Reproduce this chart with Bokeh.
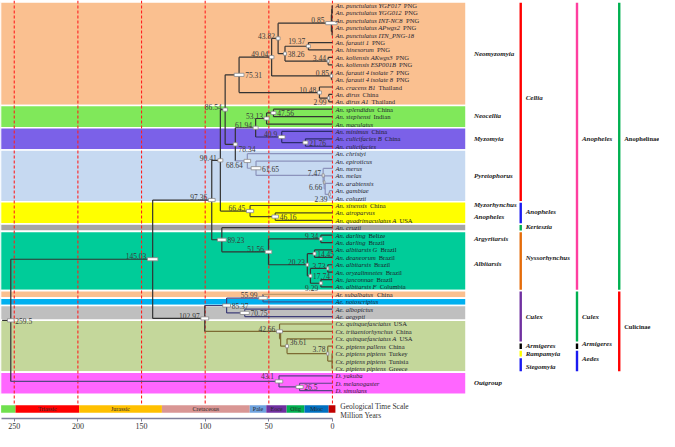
from bokeh.plotting import figure
from bokeh.models import Range1d, LinearAxis, FixedTicker, ColumnDataSource
from bokeh.core.properties import value
from bokeh.embed import file_html
from bokeh.resources import INLINE

# ---------------- data ----------------
taxon_italic = [
    "An. punctulatus YGF017", "An. punctulatus YGG012", "An. punctulatus INT-NC8",
    "An. punctulatus APwgs2", "An. punctulatus ITN_PNG-18", "An. farauti 1", "An. hinesorum",
    "An. koliensis AKwgs3", "An. koliensis ESP001B", "An. farauti 4 isolate 7",
    "An. farauti 4 isolate 8", "An. cracens B1", "An. dirus", "An. dirus A1",
    "An. splendidus", "An. stephensi", "An. maculatus", "An. minimus",
    "An. culicifacies B", "An. culicifacies", "An. christyi", "An. epiroticus",
    "An. merus", "An. melas", "An. arabiensis", "An. gambiae", "An. coluzzii",
    "An. sinensis", "An. atroparvus", "An. quadrimaculatus A", "An. cruzii",
    "An. darling", "An. darling", "An. albitarsis G", "An. deaneorum", "An. albitarsis",
    "An. oryzalimnetes", "An. janconnae", "An. albitarsis F", "Ar. subalbatus",
    "Ae. notoscriptus", "Ae. albopictus", "Ae. aegypti", "Cx. quinquefasciatus",
    "Cx. tritaeniorhynchus", "Cx. quinquefasciatus A", "Cx. pipiens pallens",
    "Cx. pipiens pipiens", "Cx. pipiens pipiens", "Cx. pipiens pipiens",
    "D. yakuba", "D. melanogaster", "D. simulans"]
taxon_place = [
    "PNG", "PNG", "PNG", "PNG", "", "PNG", "PNG", "PNG", "PNG", "PNG", "PNG",
    "Thailand", "China", "Thailand",
    "China", "Indian", "", "China", "China", "", "", "", "", "", "", "", "",
    "China", "", "USA", "", "Belize", "Brazil", "Brazil", "Brazil", "Brazil",
    "Brazil", "Brazil", "Columbia", "China", "", "", "",
    "USA", "China", "USA", "China", "Turkey", "Tunisia", "Greece", "", "", ""]
assert len(taxon_italic) == len(taxon_place) == 53

# coloured bands (first row, last row)
band_first = [0, 14, 17, 20, 27, 30, 31, 39, 40, 41, 43, 50]
band_last = [13, 16, 19, 26, 29, 30, 38, 39, 40, 42, 49, 52]
band_colors = ["#FAC090", "#80E85A", "#7B61E8", "#C6D9F1", "#FFFF00", "#A6A6A6",
               "#00CC99", "#FAC090", "#00B0F0", "#BFBFBF", "#C4D79B", "#FF66FF"]

# tree: node id, age (My), children, label side, HPD width (My)
node_id = ["p1", "p2", "p3", "n085a", "n1937", "n344", "n3826", "n4382", "n085b", "n4904",
           "n299", "n1048", "n7531", "n4756", "n5313", "n2176", "n409", "n6194",
           "n239", "nx", "n666", "n747", "n6165", "n6864", "n7834", "n8654",
           "n4616", "n6645", "n9041", "n934", "n1445", "n373", "n929", "n1774", "n2023",
           "n5156", "n8923", "n9736", "n5599", "n7075", "n8537", "npp", "n378", "n3661",
           "nc", "n4266", "n10297", "n14503", "n265", "n431", "root"]
node_age = [0.25, 0.5, 0.3, 0.85, 19.37, 3.44, 38.26, 43.82, 0.85, 49.04,
            2.99, 10.48, 75.31, 47.56, 53.13, 21.76, 40.9, 61.94,
            2.39, 5.8, 6.66, 7.47, 61.65, 68.64, 78.34, 86.54,
            46.16, 66.45, 90.41, 9.34, 14.45, 3.73, 9.29, 17.74, 20.23,
            51.56, 89.23, 97.36, 55.99, 70.75, 85.37, 0.3, 3.78, 36.61,
            41.8, 42.66, 102.97, 145.03, 26.5, 43.1, 259.5]
node_children = [["t0", "t1"], ["p1", "t2"], ["t3", "t4"], ["p2", "p3"], ["t5", "t6"],
                 ["t7", "t8"], ["n1937", "n344"], ["n085a", "n3826"], ["t9", "t10"],
                 ["n4382", "n085b"], ["t12", "t13"], ["t11", "n299"], ["n4904", "n1048"],
                 ["t14", "t15"], ["n4756", "t16"], ["t18", "t19"], ["t17", "n2176"],
                 ["n5313", "n409"], ["t25", "t26"], ["t24", "n239"], ["t23", "nx"],
                 ["t22", "n666"], ["t21", "n747"], ["t20", "n6165"], ["n6194", "n6864"],
                 ["n7531", "n7834"], ["t28", "t29"], ["t27", "n4616"], ["n8654", "n6645"],
                 ["t31", "t32"], ["t33", "t34"], ["t35", "t36"], ["t37", "t38"],
                 ["n373", "n929"], ["n1445", "n1774"], ["n934", "n2023"], ["t30", "n5156"],
                 ["n9041", "n8923"], ["t39", "t40"], ["t41", "t42"], ["n5599", "n7075"],
                 ["t47", "t48", "t49"], ["t46", "npp"], ["t45", "n378"], ["t44", "n3661"],
                 ["t43", "nc"], ["n8537", "n4266"], ["n9736", "n10297"], ["t51", "t52"],
                 ["t50", "n265"], ["n14503", "n431"]]
node_side = ["", "", "", "l", "la", "l", "r", "l", "l", "l",
             "lb", "l", "r", "r", "l", "r", "l", "l",
             "lb", "", "lb", "l", "r", "lb", "rb", "l",
             "r", "l", "l", "l", "r", "l", "lb", "r", "l",
             "l", "r", "l", "l", "r", "r", "", "la", "ra",
             "", "l", "l", "l", "r", "la", "r"]
node_hpd = [0, 0, 0, 9.2, 3.2, 1.6, 2.4, 3.2, 2.0, 3.7,
            1.6, 3.2, 7.9, 4.0, 4.0, 4.0, 5.3, 4.0,
            1.2, 0, 1.2, 1.6, 7.9, 5.3, 3.2, 3.7,
            5.3, 5.8, 4.0, 2.4, 2.4, 1.6, 2.4, 2.4, 2.0,
            5.3, 7.1, 5.5, 6.9, 7.4, 6.3, 0, 1.6, 2.4,
            0, 4.8, 6.3, 8.4, 5.8, 6.1, 5.3]

# right-hand classification columns: name, first row, last row, colour, label row
group_names = ["Neomyzomyia", "Neocellia", "Myzomyia", "Pyretophorus", "Myzorhynchus",
               "Anopheles", "Argyritarsis", "Albitarsis", "Outgroup"]
group_rows = [6.5, 14.9, 18.0, 23.0, 26.9, 28.5, 31.5, 34.9, 50.9]

subgenus_names = ["Cellia", "Anopheles", "Kerteszia", "Nyssorhynchus", "Culex",
                  "Armigeres", "Rampamyia", "Stegomyia"]
subgenus_first = [0, 27, 30, 31, 39, 46, 47, 48]
subgenus_last = [26, 29, 30, 38, 45, 46, 47, 49]
subgenus_colors = ["#FF0000", "#1A1AF0", "#00B050", "#E46C0A", "#7030A0", "#000000",
                   "#FFFF00", "#1A1AF0"]
subgenus_label_rows = [12.5, 27.9, 29.9, 34.1, 42.0, 46.0, 47.0, 48.8]

genus_names = ["Anopheles", "Culex", "Armigeres", "Aedes"]
genus_first = [0, 39, 46, 47]
genus_last = [38, 45, 46, 49]
genus_colors = ["#FF3FA0", "#00B050", "#000000", "#1A1AF0"]
genus_label_rows = [18.0, 42.0, 45.7, 47.7]

subfamily_names = ["Anophelinae", "Culicinae"]
subfamily_first = [0, 39]
subfamily_last = [38, 49]
subfamily_colors = ["#00B050", "#FF0000"]
subfamily_label_rows = [18.0, 43.3]

# geological time scale
geo_names = ["", "Triassic", "Jurassic", "Cretaceous", "Pale", "Eoce", "Olig", "Mioc", ""]
geo_start = [260.3, 249, 199, 134, 65, 52, 36, 22, 3]
geo_end = [249, 199, 134, 65, 52, 36, 22, 3, -2.3]
geo_colors = ["#70E04E", "#FF0000", "#FFC000", "#D99694", "#6FA2DE", "#7030A0",
              "#00B050", "#0070C0", "#C00000"]
tick_values = [250, 200, 150, 100, 50, 0]

# ---------------- layout ----------------
W, H = 659, 431
TREE_RANGE = (267.8, -263.9)
KPX = W / (TREE_RANGE[0] - TREE_RANGE[1])   # px per My
SERIF = "Liberation Serif"

p = figure(width=W, height=H, output_backend="svg", toolbar_location=None,
           x_range=Range1d(*TREE_RANGE), y_range=Range1d(55.76, -0.68),
           x_axis_location=None, y_axis_location=None, min_border=0)
p.extra_x_ranges = {"geo": Range1d(260.8, -256.9), "ref": Range1d(2, 673)}
p.grid.visible = False
p.outline_line_color = None
p.background_fill_color = "white"
p.border_fill_color = "white"

# bands
p.quad(left=[2] * len(band_first), right=[476] * len(band_first),
       top=[f - 0.5 for f in band_first], bottom=[l + 0.5 for l in band_last],
       fill_color=band_colors, line_color="white", line_width=1.6, x_range_name="ref")

# dashed time lines
p.segment(x0=tick_values, y0=[-0.68] * 6, x1=tick_values, y1=[53.83] * 6,
          line_color="#FF2020", line_dash="3 2", line_width=1.1, x_range_name="geo")

# ---------------- tree ----------------
age = {f"t{i}": 0.0 for i in range(len(taxon_italic))}
ypos = {f"t{i}": float(i) for i in range(len(taxon_italic))}
for nid, a, ch in zip(node_id, node_age, node_children):
    age[nid] = a
    ys = [ypos[c] for c in ch]
    ypos[nid] = (min(ys) + max(ys)) / 2

clade_color = {"n4266": "#7D6B33", "n431": "#574684", "n8537": "#3E3E78",
               "n6864": "#8C93BC", "n409": "#2C2C6C", "n6645": "#4A4A20",
               "t39": "#C09A6A", "t40": "#2E5E9E"}
color = {"root": "#333333"}
for nid, ch in zip(reversed(node_id), reversed(node_children)):
    for c in ch:
        color[c] = clade_color.get(c, color[nid])

sx0, sy0, sx1, sy1, scol = [], [], [], [], []
for nid, ch in zip(node_id, node_children):
    ys = [ypos[c] for c in ch]
    sx0.append(age[nid]); sx1.append(age[nid]); sy0.append(min(ys)); sy1.append(max(ys))
    scol.append(color[nid])
    for c in ch:
        sx0.append(age[nid]); sx1.append(age[c]); sy0.append(ypos[c]); sy1.append(ypos[c])
        scol.append(color[c])
# root stem
sx0.append(age["root"]); sx1.append(266.5); sy0.append(ypos["root"]); sy1.append(ypos["root"])
scol.append("#333333")
p.segment(x0=sx0, y0=sy0, x1=sx1, y1=sy1, line_color=scol, line_width=1.2)

# HPD bars and node labels
hx, hy, hw = [], [], []
lx, ly, lt, lxo, lyo, lal = [], [], [], [], [], []
dy = {"l": -2.8, "la": -5.0, "lb": 4.3, "r": 0.3, "ra": -3.8, "rb": 4.3}
for nid, a, side, hpd in zip(node_id, node_age, node_side, node_hpd):
    if hpd > 0:
        hx.append(a); hy.append(ypos[nid]); hw.append(hpd)
    if side:
        half = hpd / 2 * KPX + 1.2
        lx.append(a); ly.append(ypos[nid]); lt.append(f"{a:g}")
        if side.startswith("l"):
            lxo.append(-half); lal.append("right")
        else:
            lxo.append(half); lal.append("left")
        lyo.append(dy[side])
p.rect(x=hx, y=hy, width=hw, height=3.2, height_units="screen",
       fill_color="white", line_color="#8A8A8A", line_width=0.8)
p.text(x="x", y="y", text="t", x_offset="xo", y_offset="yo", text_align="a",
       source=ColumnDataSource(dict(x=lx, y=ly, t=lt, xo=lxo, yo=lyo, a=lal)),
       text_baseline="middle", text_font=value(SERIF), text_font_size=value("7.5px"),
       text_color="#3A3A3A")

# leaf labels (italic name + upright locality)
ITALIC_W = {" ": 250, "-": 333, ".": 250, "_": 500,
            "A": 611, "B": 611, "C": 667, "D": 722, "E": 611, "F": 611, "G": 722, "H": 722,
            "I": 333, "J": 444, "K": 667, "L": 556, "M": 833, "N": 667, "O": 722, "P": 611,
            "Q": 722, "R": 611, "S": 500, "T": 556, "U": 722, "V": 611, "W": 833, "X": 611,
            "Y": 556, "Z": 556, "a": 500, "b": 500, "c": 444, "d": 500, "e": 444, "f": 278,
            "g": 500, "h": 500, "i": 278, "j": 278, "k": 444, "l": 278, "m": 722, "n": 500,
            "o": 500, "p": 500, "q": 500, "r": 389, "s": 389, "t": 278, "u": 500, "v": 444,
            "w": 667, "x": 444, "y": 444, "z": 389}
FS = 6.6
rows = list(range(len(taxon_italic)))
p.text(x=[0] * len(rows), y=rows, text=taxon_italic, x_offset=3,
       text_baseline="middle", text_font=value(SERIF), text_font_size=value(f"{FS}px"),
       text_font_style="italic", text_color="#1E1E2E")
place_off = [3 + sum(ITALIC_W.get(ch, 500) for ch in s) / 1000 * FS + 0.45 * FS
             for s in taxon_italic]
p.text(x="x", y="y", text="t", x_offset="xo",
       source=ColumnDataSource(dict(x=[0] * len(rows), y=rows, t=taxon_place, xo=place_off)),
       text_baseline="middle", text_font=value(SERIF), text_font_size=value(f"{FS}px"),
       text_color="#1E1E2E")

# ---------------- classification columns ----------------
p.text(x=[484] * len(group_names), y=group_rows, text=group_names, x_range_name="ref",
       text_baseline="middle", text_font=value(SERIF), text_font_size=value("7px"),
       text_font_style="bold italic", text_color="#222222")


def column(xbar, names, first, last, colors, label_rows, style, size):
    ext = 0.38
    p.segment(x0=[xbar] * len(names), x1=[xbar] * len(names),
              y0=[f - ext for f in first], y1=[l + ext for l in last],
              line_color=colors, line_width=2.4, line_cap="butt", x_range_name="ref")
    p.text(x=[xbar + 5.0] * len(names), y=label_rows, text=names, x_range_name="ref",
           text_baseline="middle", text_font=value(SERIF), text_font_size=value(size),
           text_font_style=style, text_color="#222222")


column(531.7, subgenus_names, subgenus_first, subgenus_last, subgenus_colors,
       subgenus_label_rows, "bold italic", "7px")
column(589.0, genus_names, genus_first, genus_last, genus_colors,
       genus_label_rows, "bold italic", "7px")
column(632.0, subfamily_names, subfamily_first, subfamily_last, subfamily_colors,
       subfamily_label_rows, "bold", "6.5px")

# ---------------- geological time scale ----------------
p.quad(left=geo_start, right=geo_end, top=[53.96] * len(geo_start),
       bottom=[54.99] * len(geo_start), fill_color=geo_colors, line_color=None,
       x_range_name="geo")
p.text(x=[(a + b) / 2 for a, b in zip(geo_start, geo_end)], y=[54.5] * len(geo_start),
       text=geo_names, x_range_name="geo", text_align="center", text_baseline="middle",
       text_font=value(SERIF), text_font_size=value("6px"), text_color="#2A2A2A")
p.text(x=[348, 348], y=[54.18, 55.3], text=["Geological Time Scale", "Million Years"],
       x_range_name="ref", text_baseline="middle", text_font=value(SERIF),
       text_font_size=value("7.5px"), text_color="#333333")

xaxis = LinearAxis(x_range_name="geo", ticker=FixedTicker(ticks=tick_values),
                   bounds=(0, 260.3))
xaxis.axis_line_color = "#7F7F9A"
xaxis.axis_line_width = 1.5
xaxis.major_tick_line_color = "#7F7F9A"
xaxis.major_tick_out = 3
xaxis.major_tick_in = 0
xaxis.minor_tick_out = 0
xaxis.minor_tick_in = 0
xaxis.major_label_standoff = 1
xaxis.major_label_text_font = SERIF
xaxis.major_label_text_font_size = "8px"
xaxis.major_label_text_color = "#333333"
p.add_layout(xaxis, "below")

open("out.html", "w").write(file_html(p, INLINE))
